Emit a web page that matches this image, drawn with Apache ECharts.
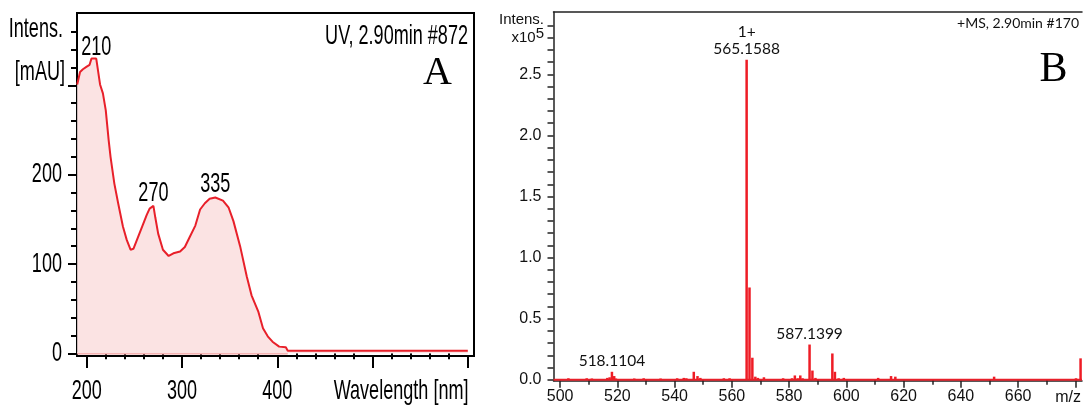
<!DOCTYPE html>
<html>
<head>
<meta charset="utf-8">
<script src="https://cdn.jsdelivr.net/npm/echarts@6/dist/echarts.min.js"></script>
<style>
  html, body { margin: 0; padding: 0; background: #fff; }
  #chart { width: 1083px; height: 408px; }
</style>
</head>
<body>
<div id="chart"></div>
<script>
// Panel A: UV absorption spectrum (wavelength in nm, absorbance in mAU)
const uvWavelength = [190, 193, 196, 200, 203, 205, 210, 214, 217, 220, 223, 225, 229, 233, 238, 242, 246, 249, 252, 259, 263, 266, 270, 272, 275, 280, 286, 291, 298, 303, 308, 314, 319, 324, 329, 335, 343, 349, 354, 361, 368, 373, 380, 385, 390, 395, 402, 409, 411, 450, 500, 550, 600];
const uvIntensity  = [301, 315, 318, 321, 323, 330, 330, 301, 291, 272, 239, 220, 190, 168, 142, 127, 116, 117, 125, 144, 155, 162, 165, 152, 134, 116, 109, 112, 114, 119, 130, 143, 161, 168, 173, 174.5, 171, 163, 148, 120, 86, 65, 47, 28, 19, 13, 7.5, 6.7, 3, 3, 3, 3, 3];
const uvPeakWavelength = [210, 270, 335];
const uvBaselineRange = [190, 411];
const uvXMajorTicks = [200, 300, 400, 500, 600];
const uvXLabels = [200, 300, 400];
const uvYLabels = [0, 100, 200];

// Panel B: mass spectrum (m/z, intensity x10^5)
const msMz = [502.9, 509.3, 511.1, 516.5, 517.3, 518.1104, 518.9, 519.5, 525.9, 529.2, 535.1, 540.9, 543.2, 544.1, 546.7, 548.0, 549.0, 557.2, 559.2, 565.1588, 566.16, 567.16, 568.2, 569.1, 571.2, 577.9, 581.0, 582.0, 583.0, 583.9, 584.7, 587.1399, 588.14, 589.2, 595.1, 596.0, 597.3, 599.1, 611.1, 615.6, 617.1, 651.6, 680.2, 681.8];
const msIntensity = [0.012, 0.012, 0.01, 0.015, 0.02, 0.065, 0.03, 0.01, 0.01, 0.012, 0.01, 0.012, 0.015, 0.012, 0.065, 0.03, 0.015, 0.012, 0.012, 2.62, 0.755, 0.18, 0.025, 0.015, 0.02, 0.012, 0.012, 0.035, 0.012, 0.035, 0.012, 0.288, 0.075, 0.015, 0.215, 0.065, 0.012, 0.015, 0.015, 0.03, 0.025, 0.025, 0.012, 0.175];
const msLabelledMz = [518.1104, 565.1588, 587.1399];
const msChargeMz = 565.1588;
const msChargeText = '1+';
const msBaselineRange = [497.7, 682.3];
const msXLabels = [500, 520, 540, 560, 580, 600, 620, 640, 660];
const msYLabels = [0, 0.5, 1.0, 1.5, 2.0, 2.5];

function range(start, stop, step) {
  const out = [];
  for (let v = start; v <= stop + 1e-9; v += step) out.push(Math.round(v * 1000) / 1000);
  return out;
}

const sans = "'Liberation Sans', Arial, sans-serif";
const soft = "Lato, 'Open Sans', sans-serif";
const serif = "'Liberation Serif', 'Times New Roman', serif";
const red = '#e8202a';

const uvLine = uvWavelength.map((w, i) => [w, uvIntensity[i]]);
const uvPeaks = uvPeakWavelength.map(w => [w, uvIntensity[uvWavelength.indexOf(w)]]);
const msBars = msMz.map((m, i) => {
  const item = { value: [m, msIntensity[i]] };
  if (msLabelledMz.includes(m)) item.label = { show: true };
  return item;
});

const A = { left: 77, top: 13, width: 397, height: 343 };
const B = { left: 553.5, top: 12, width: 528.5, height: 368.7 };

const chart = echarts.init(document.getElementById('chart'), null, { renderer: 'canvas' });
chart.setOption({
  animation: false,
  backgroundColor: '#fff',
  grid: [
    Object.assign({ show: true, borderColor: '#000', borderWidth: 2, backgroundColor: 'transparent' }, A),
    Object.assign({ show: false }, B)
  ],
  xAxis: [
    { // A: long ticks at every 100 nm
      type: 'value', gridIndex: 0, position: 'bottom', min: 189.8, max: 606.5,
      splitLine: { show: false },
      axisLine: { show: true, onZero: false, lineStyle: { color: '#000', width: 2 } },
      axisTick: { show: true, length: 12, lineStyle: { color: '#000', width: 2 }, customValues: uvXMajorTicks },
      axisLabel: { show: false }
    },
    { // A: short ticks every 20 nm
      type: 'value', gridIndex: 0, position: 'bottom', min: 189.8, max: 606.5,
      splitLine: { show: false }, axisLine: { show: false },
      axisTick: { show: true, length: 6, lineStyle: { color: '#000', width: 2 }, customValues: range(220, 580, 20).filter(v => v % 100 !== 0) },
      axisLabel: { show: false }
    },
    { // B: labelled m/z axis
      type: 'value', gridIndex: 1, position: 'bottom', min: msBaselineRange[0], max: msBaselineRange[1],
      splitLine: { show: false },
      axisLine: { show: true, onZero: false, lineStyle: { color: '#222', width: 1.5 } },
      axisTick: { show: true, length: 7, lineStyle: { color: '#222', width: 1.5 }, customValues: range(500, 680, 20) },
      axisLabel: { color: '#111', fontFamily: sans, fontSize: 16, margin: 8, customValues: msXLabels }
    },
    { // B: short ticks halfway between labels
      type: 'value', gridIndex: 1, position: 'bottom', min: msBaselineRange[0], max: msBaselineRange[1],
      splitLine: { show: false }, axisLine: { show: false },
      axisTick: { show: true, length: 5, lineStyle: { color: '#222', width: 1.5 }, customValues: range(510, 670, 20) },
      axisLabel: { show: false }
    },
    { // B: top frame line
      type: 'value', gridIndex: 1, position: 'top', min: msBaselineRange[0], max: msBaselineRange[1],
      splitLine: { show: false },
      axisLine: { show: true, onZero: false, lineStyle: { color: '#222', width: 1.5 } },
      axisTick: { show: false }, axisLabel: { show: false }
    }
  ],
  yAxis: [
    {
      type: 'value', gridIndex: 0, position: 'left', min: -3, max: 381,
      splitLine: { show: false },
      axisLine: { show: true, onZero: false, lineStyle: { color: '#000', width: 2 } },
      axisTick: { show: true, length: 9, lineStyle: { color: '#000', width: 2 }, customValues: [0, 100, 200, 300] },
      axisLabel: { show: false }
    },
    {
      type: 'value', gridIndex: 0, position: 'left', min: -3, max: 381,
      splitLine: { show: false }, axisLine: { show: false },
      axisTick: { show: true, length: 6, lineStyle: { color: '#000', width: 2 }, customValues: range(20, 360, 20).filter(v => v % 100 !== 0) },
      axisLabel: { show: false }
    },
    {
      type: 'value', gridIndex: 1, position: 'left', min: -0.008, max: 3.01,
      splitLine: { show: false },
      axisLine: { show: true, onZero: false, lineStyle: { color: '#222', width: 1.5 } },
      axisTick: { show: true, length: 6, lineStyle: { color: '#222', width: 1.5 }, customValues: range(0, 2.9, 0.1) },
      axisLabel: { color: '#111', fontFamily: sans, fontSize: 16, margin: 12, customValues: msYLabels,
        formatter: v => v.toFixed(1) }
    }
  ],
  series: [
    {
      type: 'line', xAxisIndex: 0, yAxisIndex: 0,
      data: uvBaselineRange.map(w => [w, 0]),
      showSymbol: false, silent: true,
      lineStyle: { color: '#f3a3a3', width: 2.5 }, z: 1
    },
    {
      type: 'line', xAxisIndex: 0, yAxisIndex: 0,
      data: uvLine, showSymbol: false,
      lineStyle: { color: red, width: 2 },
      itemStyle: { color: red },
      areaStyle: { color: '#fbe3e3', opacity: 1 },
      z: 2
    },
    {
      type: 'line', xAxisIndex: 2, yAxisIndex: 2,
      data: msBaselineRange.map(m => [m, 0]),
      showSymbol: false, silent: true,
      lineStyle: { color: red, width: 2 }, z: 1
    },
    {
      type: 'bar', xAxisIndex: 2, yAxisIndex: 2,
      data: msBars, barWidth: 2.5,
      itemStyle: { color: '#ee1c25' },
      label: {
        show: false, position: 'top', distance: 2,
        color: '#111', fontFamily: soft, fontSize: 15.5, lineHeight: 17, align: 'center',
        formatter: p => (p.value[0] === msChargeMz ? msChargeText + '\n' : '') + p.value[0].toFixed(4)
      },
      z: 2
    }
  ]
});

// Panel A text is set in a condensed face: Liberation Sans squeezed horizontally.
const toA = p => chart.convertToPixel({ xAxisIndex: 0, yAxisIndex: 0 }, p);
const condensed = (text, x, y, align) => ({
  type: 'text', x: x, y: y, scaleX: 0.645, z: 10,
  style: { text: text, font: '28px ' + sans, fill: '#000', align: align, verticalAlign: 'middle' }
});

const graphics = [];
uvXLabels.forEach(v => graphics.push(condensed(String(v), toA([v, 0])[0], 391, 'center')));
uvYLabels.forEach(v => graphics.push(condensed(String(v), 62, toA([200, v])[1], 'right')));
uvPeaks.forEach((p, i) => {
  const px = toA(p);
  graphics.push(condensed(String(p[0]), px[0], px[1] - (i === 0 ? 11 : 13), 'center'));
});
graphics.push(
  condensed('Intens.', 63, 29, 'right'),
  condensed('[mAU]', 65, 72, 'right'),
  condensed('UV, 2.90min #872', 468, 36.5, 'right'),
  condensed('Wavelength [nm]', 468.5, 391, 'right'),
  { type: 'text', x: 437.5, y: 73.5, style: { text: 'A', font: '40px ' + serif, fill: '#000', align: 'center', verticalAlign: 'middle' } },
  { type: 'text', x: 544, y: 20, style: { text: 'Intens.', font: '15px ' + sans, fill: '#111', align: 'right', verticalAlign: 'middle' } },
  { type: 'text', x: 544, y: 38, style: {
      text: 'x10{s|5}', font: '15px ' + sans, fill: '#111', align: 'right', verticalAlign: 'middle',
      rich: { s: { fontSize: 15, fontFamily: sans, verticalAlign: 'top', padding: [0, 0, 8, 0], fill: '#111' } } } },
  { type: 'text', x: 1079, y: 23, style: { text: '+MS, 2.90min #170', font: '14px ' + soft, fill: '#111', align: 'right', verticalAlign: 'middle' } },
  { type: 'text', x: 1053.5, y: 70, style: { text: 'B', font: '42px ' + serif, fill: '#000', align: 'center', verticalAlign: 'middle' } },
  { type: 'text', x: 1081, y: 398, style: { text: 'm/z', font: '16px ' + sans, fill: '#111', align: 'right', verticalAlign: 'middle' } }
);
chart.setOption({ graphic: graphics });
</script>
</body>
</html>
